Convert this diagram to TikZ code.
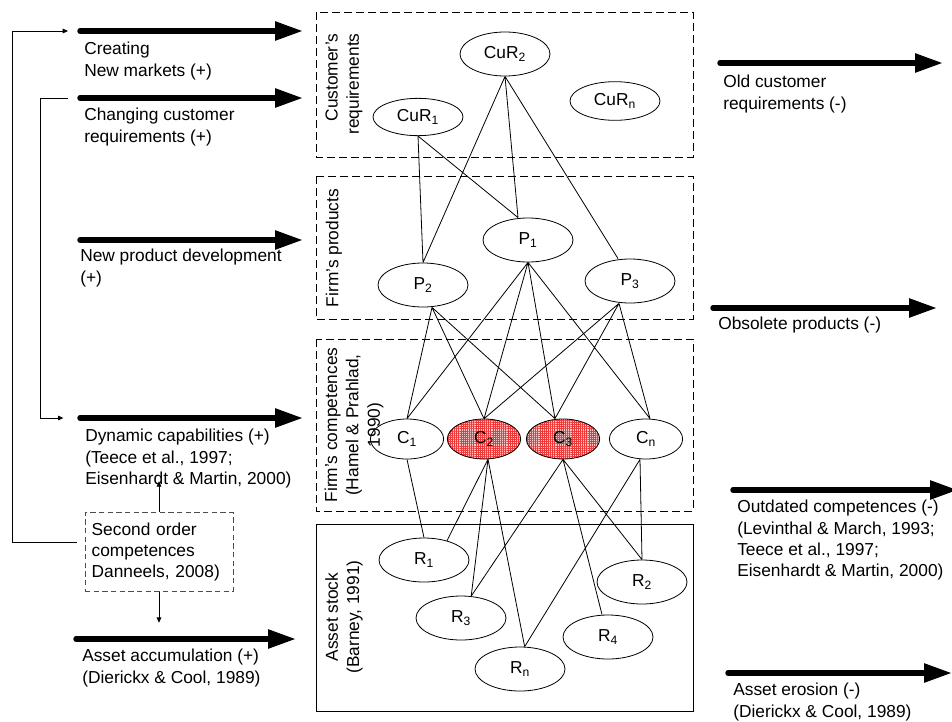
\documentclass[tikz,border=0pt]{standalone}
\usepackage{fontspec}
\setmainfont{Liberation Sans}
\usetikzlibrary{shapes.geometric,arrows.meta,patterns.meta}
\definecolor{cgrid}{HTML}{EC3A3A}
\definecolor{cpink}{HTML}{FBC8C8}
\newcommand{\lbfont}{\fontsize{13}{16}\selectfont}
\tikzset{
  oval/.style={draw, line width=0.6pt, ellipse, inner sep=0pt, minimum width=67.5pt, minimum height=33pt, font=\lbfont},
  coval/.style={oval, minimum width=55pt, minimum height=30pt},
  hot/.style={coval, preaction={fill=cpink}, pattern={Hatch[angle=0,distance=1.6pt,line width=0.35pt]}, pattern color=cgrid},
  fat/.style={line width=4.1pt, line cap=round, -{Triangle[length=21pt,width=13.5pt]}},
  thinarr/.style={line width=0.6pt, -{Triangle[length=4pt,width=3.5pt]}},
  edge/.style={line width=0.6pt},
  lbl/.style={anchor=north west, align=left, inner sep=0pt, font=\lbfont},
  side/.style={rotate=90, inner sep=0pt, font=\lbfont},
  area/.style={line width=0.7pt, dash pattern=on 6pt off 3pt},
  secbox/.style={draw=black!70, line width=0.6pt, dash pattern=on 4pt off 2.5pt, text width=101pt, inner xsep=5pt, minimum height=59pt, align=left, font=\lbfont}
}

\begin{document}
\begin{tikzpicture}[x=0.75pt,y=-0.75pt]
 \useasboundingbox (0,0) rectangle (952,721);
 \fill[white] (0,0) rectangle (952,721);
 \draw[area] (316,12) rectangle (693,157);
 \draw[area] (316,176) rectangle (693,319);
 \draw[area] (316,339) rectangle (693,511);
 \draw[line width=0.7pt] (316,524) rectangle (693,711);
 \node[side, align=right] (tcur) at (344,84) {Customer's\\requirements};
 \node[side] (tprod) at (334,248) {Firm's products};
 \node[side, align=center] (tcomp) at (354,425) {Firm's competences\\(Hamel \& Prahlad,\\1990)};
 \node[side, align=center] (tasset) at (344,617) {Asset stock\\(Barney, 1991)};

 \node[oval, minimum height=28pt] (CuR1) at (418,117) {CuR\textsubscript{1}};
 \node[oval] (CuR2) at (505,54) {CuR\textsubscript{2}};
 \node[oval, minimum height=29pt] (CuRn) at (615,101) {CuR\textsubscript{n}};
 \node[oval] (P1) at (528,240) {P\textsubscript{1}};
 \node[oval] (P2) at (423,285) {P\textsubscript{2}};
 \node[oval] (P3) at (630,281) {P\textsubscript{3}};
 \node[coval] (C1) at (407,439) {C\textsubscript{1}};
 \node[hot] (C2) at (484,439) {C\textsubscript{2}};
 \node[hot] (C3) at (563,439) {C\textsubscript{3}};
 \node[coval] (Cn) at (646,439) {C\textsubscript{n}};
 \node[oval] (R1) at (424,560) {R\textsubscript{1}};
 \node[oval] (R2) at (642,582) {R\textsubscript{2}};
 \node[oval] (R3) at (461,618) {R\textsubscript{3}};
 \node[oval] (R4) at (608,637) {R\textsubscript{4}};
 \node[oval] (Rn) at (520,669) {R\textsubscript{n}};

 \draw[edge] (CuR1.south) -- (P2.north) (CuR1.south) -- ([xshift=-7.5pt]P1.north)
  (CuR2.south) -- (P2.north) (CuR2.south) -- ([xshift=-7.5pt]P1.north)
  (CuR2.south) -- ([xshift=-9pt]P3.north);
 \draw[edge] ([xshift=6.75pt]P2.south) -- (C1.north) ([xshift=6.75pt]P2.south) -- (C2.north)
  ([xshift=6.75pt]P2.south) -- ([xshift=-6pt]C3.north)
  (P1.south) -- (C1.north) (P1.south) -- (C2.north) (P1.south) -- ([xshift=-6pt]C3.north)
  (P1.south) -- ([xshift=3pt]Cn.north)
  ([xshift=-8.25pt]P3.south) -- (C2.north) ([xshift=-8.25pt]P3.south) -- ([xshift=-6pt]C3.north)
  ([xshift=-8.25pt]P3.south) -- ([xshift=3pt]Cn.north);
 \draw[edge] (C1.south) -- (R1.north)
  ([xshift=3pt]C2.south) -- (R1.40) ([xshift=3pt]C2.south) -- (R3.65)
  ([xshift=3pt]C2.south) -- ([xshift=3.5pt]Rn.north)
  (C3.south) -- (R3.65) (C3.south) -- ([xshift=-4.5pt]R4.north) (C3.south) -- (R2.north)
  ([xshift=-4.5pt]Cn.south) -- (R2.north) ([xshift=-4.5pt]Cn.south) -- ([xshift=3.5pt]Rn.north);

 \coordinate (a1s) at (80,31);  \coordinate (a1e) at (303,31);
 \coordinate (a2s) at (80,98);  \coordinate (a2e) at (303,98);
 \coordinate (a3s) at (80,240); \coordinate (a3e) at (303,240);
 \coordinate (a4s) at (80,418); \coordinate (a4e) at (303,418);
 \coordinate (a5s) at (76,639); \coordinate (a5e) at (296,639);
 \coordinate (b1s) at (720,63);  \coordinate (b1e) at (943,63);
 \coordinate (b2s) at (713,308); \coordinate (b2e) at (937,308);
 \coordinate (b3s) at (733,490); \coordinate (b3e) at (958,490);
 \coordinate (b4s) at (728,673); \coordinate (b4e) at (952,673);
 \foreach \s/\e in {a1s/a1e,a2s/a2e,a3s/a3e,a4s/a4e,a5s/a5e,b1s/b1e,b2s/b2e,b3s/b3e,b4s/b4e}
  \draw[fat] (\s) -- (\e);

 \node[lbl] (tnew) at (84,42) {Creating\\New markets (+)};
 \node[lbl] (tchg) at (84,108) {Changing customer\\requirements (+)};
 \node[lbl] (tnpd) at (80,249) {New product development\\(+)};
 \node[lbl] (tdyn) at (85,429) {Dynamic capabilities (+)\\(Teece et al., 1997;\\Eisenhardt \& Martin, 2000)};
 \node[lbl] (tacc) at (82,649) {Asset accumulation (+)\\(Dierickx \& Cool, 1989)};
 \node[lbl] (told) at (723,75) {Old customer\\requirements (-)};
 \node[lbl] (tobs) at (718,317) {Obsolete products (-)};
 \node[lbl] (tout) at (737,500) {Outdated competences (-)\\(Levinthal \& March, 1993;\\Teece et al., 1997;\\Eisenhardt \& Martin, 2000)};
 \node[lbl] (tero) at (733,683) {Asset erosion (-)\\(Dierickx \& Cool, 1989)};

 \node[secbox] (sec) at (159,552) {Second order\\competences\\Danneels, 2008)};
 \draw[thinarr] (sec.north) -- ++(0,-31);
 \draw[thinarr] (sec.south) -- ++(0,31);
 \draw[thinarr] ([xshift=-6pt,yshift=7pt]sec.west) -| (12,31) -- ([xshift=-9pt]a1s);
 \draw[thinarr] ([xshift=-9pt]a2s) -| (40,418) -- ([xshift=-12.5pt]a4s);
\end{tikzpicture}
\end{document}
